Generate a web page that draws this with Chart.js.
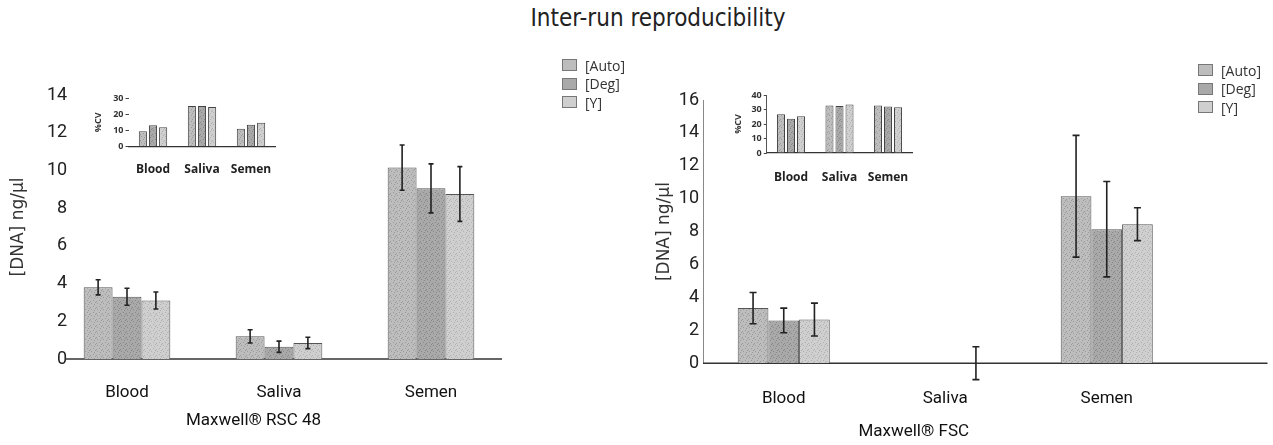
<!DOCTYPE html>
<html>
<head>
<meta charset="utf-8">
<script src="https://cdn.jsdelivr.net/npm/chart.js@4.4.1/dist/chart.umd.min.js"></script>
<style>
    body { margin: 0; background: #fff; width: 1273px; height: 445px; overflow: hidden; position: relative; }
    canvas { position: absolute; }
    #title { position: absolute; left: 0; width: 1316px; top: 4px; text-align: center; color: #222;
             font: 24px 'Liberation Sans Narrow', 'DejaVu Sans Condensed', Roboto, sans-serif; }
    .legend { position: absolute; font: 14px 'Open Sans', sans-serif; color: #333; }
    .legend div { height: 18.5px; display: flex; align-items: center; }
    .legend .box { width: 13px; height: 10px; border: 1px solid #777; margin-right: 8px; }
</style>
</head>
<body>
<div id="title">Inter-run reproducibility</div>
<canvas id="rscChart" width="640" height="445" style="left:0;top:0"></canvas>
<canvas id="fscChart" width="633" height="445" style="left:640px;top:0"></canvas>
<canvas id="rscCv" width="210" height="100" style="left:80px;top:85px"></canvas>
<canvas id="fscCv" width="210" height="113" style="left:720px;top:82px"></canvas>
<div class="legend" id="rscLegend" style="left:562px;top:56px"></div>
<div class="legend" id="fscLegend" style="left:1198px;top:61px"></div>
<script>
// categories and series
const categories = ['Blood', 'Saliva', 'Semen'];
const seriesNames = ['[Auto]', '[Deg]', '[Y]'];

// Maxwell RSC 48, [DNA] ng/µl (mean and error)
const rscAuto = [3.8, 1.2, 10.15];
const rscAutoErr = [0.4, 0.35, 1.2];
const rscDeg = [3.3, 0.65, 9.05];
const rscDegErr = [0.45, 0.3, 1.3];
const rscY = [3.1, 0.85, 8.75];
const rscYErr = [0.45, 0.3, 1.45];

// Maxwell RSC 48, %CV inset
const rscCvAuto = [9.5, 25, 11];
const rscCvDeg = [13.2, 25, 13.5];
const rscCvY = [12, 24.5, 14.7];

// Maxwell FSC, [DNA] ng/µl
const fscAuto = [3.35, 0, 10.15];
const fscAutoErr = [0.95, 0, 3.7];
const fscDeg = [2.6, 0, 8.15];
const fscDegErr = [0.75, 0, 2.9];
const fscY = [2.65, 0, 8.45];
const fscYErr = [1.0, 1.0, 1.0];

// Maxwell FSC, %CV inset
const fscCvAuto = [26.7, 32.7, 32.7];
const fscCvDeg = [23.6, 32.5, 32];
const fscCvY = [25.4, 33.5, 31.5];

// axis ranges
const rscMax = 14, fscMax = 16, rscCvMax = 30, fscCvMax = 40;
const mainStep = 2, cvStep = 10;

const labelFont = "Roboto, 'Open Sans', sans-serif";
const seriesColors = ['#bdbdbd', '#a9a9a9', '#cfcfcf'];
const speckColors = ['#9a9a9a', '#888888', '#b0b0b0'];

Chart.defaults.font.family = "'Open Sans', sans-serif";
Chart.defaults.animation = false;

// small fixed stipple so the bars look like the printed grey
function texture(base, speck) {
    const c = document.createElement('canvas');
    c.width = 6; c.height = 6;
    const g = c.getContext('2d');
    g.fillStyle = base;
    g.fillRect(0, 0, 6, 6);
    g.fillStyle = speck;
    [[0, 1], [3, 0], [4, 4], [1, 3], [5, 2]].forEach(p => g.fillRect(p[0], p[1], 1, 1));
    return g.createPattern(c, 'repeat');
}

// vertical error bars read from dataset.errors
const errorBars = {
    id: 'errorBars',
    afterDatasetsDraw(chart, args, opts) {
        const ctx = chart.ctx;
        const yScale = chart.scales.y;
        chart.data.datasets.forEach((ds, i) => {
            if (!ds.errors) return;
            chart.getDatasetMeta(i).data.forEach((bar, j) => {
                const e = ds.errors[j];
                if (!e) return;
                const top = yScale.getPixelForValue(ds.data[j] + e);
                const bottom = yScale.getPixelForValue(ds.data[j] - e);
                ctx.save();
                ctx.strokeStyle = opts.color;
                ctx.lineWidth = opts.width;
                ctx.beginPath();
                ctx.moveTo(bar.x, top); ctx.lineTo(bar.x, bottom);
                ctx.moveTo(bar.x - opts.cap, top); ctx.lineTo(bar.x + opts.cap, top);
                ctx.moveTo(bar.x - opts.cap, bottom); ctx.lineTo(bar.x + opts.cap, bottom);
                ctx.stroke();
                ctx.restore();
            });
        });
    }
};

// zero line under the bars
const baseline = {
    id: 'baseline',
    beforeDatasetsDraw(chart, args, opts) {
        const ctx = chart.ctx;
        const a = chart.chartArea;
        const y = chart.scales.y.getPixelForValue(0);
        ctx.save();
        ctx.strokeStyle = opts.color;
        ctx.lineWidth = opts.width;
        ctx.beginPath();
        ctx.moveTo(a.left + opts.start, y);
        ctx.lineTo(a.right + opts.end, y);
        ctx.stroke();
        ctx.restore();
    }
};

function barSet(values, errors, k) {
    return {
        label: seriesNames[k],
        data: values,
        errors: errors,
        backgroundColor: texture(seriesColors[k], speckColors[k]),
        borderColor: '#555',
        borderWidth: 1
    };
}

function mainChart(id, sets, cfg) {
    return new Chart(document.getElementById(id), {
        type: 'bar',
        data: { labels: categories, datasets: sets },
        options: {
            responsive: false,
            layout: { padding: cfg.padding },
            categoryPercentage: 0.57,
            barPercentage: 1,
            plugins: {
                legend: { display: false },
                tooltip: { enabled: false },
                title: { display: true, position: 'bottom', text: cfg.xTitle, color: '#111',
                         padding: { top: cfg.titleTop, bottom: 0 }, font: { family: labelFont, size: 17, weight: 'normal' } },
                errorBars: { color: '#222', width: 1.6, cap: cfg.cap },
                baseline: { color: '#333', width: 1.5, start: cfg.lineStart, end: cfg.lineEnd }
            },
            scales: {
                x: {
                    afterFit: scale => { scale.height = cfg.xHeight; },
                    grid: { display: false },
                    border: { display: false },
                    ticks: { padding: cfg.xPad, color: '#111', font: { family: labelFont, size: 17 } }
                },
                y: {
                    min: 0, max: cfg.max,
                    afterFit: scale => { scale.width = cfg.yWidth; },
                    grid: { display: false },
                    border: cfg.border,
                    ticks: { stepSize: mainStep, mirror: cfg.mirror, crossAlign: cfg.mirror ? 'far' : 'near',
                             padding: cfg.yPad, color: '#222', font: { family: labelFont, size: 18 } },
                    title: { display: true, text: '[DNA] ng/µl', color: '#333', padding: { top: cfg.yTitleTop, bottom: 0 },
                             font: { family: "'DejaVu Sans', sans-serif", size: 17 } }
                }
            }
        },
        plugins: [baseline, errorBars]
    });
}

function cvChart(id, sets, cfg) {
    return new Chart(document.getElementById(id), {
        type: 'bar',
        data: {
            labels: categories,
            datasets: sets.map((values, k) => ({
                label: seriesNames[k],
                data: values,
                backgroundColor: texture(seriesColors[k], speckColors[k]),
                borderColor: '#444',
                borderWidth: 1
            }))
        },
        options: {
            responsive: false,
            layout: { padding: cfg.padding },
            categoryPercentage: 0.62,
            barPercentage: 0.8,
            plugins: { legend: { display: false }, tooltip: { enabled: false } },
            scales: {
                x: {
                    grid: { display: false },
                    border: { display: true, color: '#333', width: 1.2, dash: cfg.xDash },
                    ticks: { padding: cfg.xPad, color: '#222', font: { size: 12, weight: 'bold' } }
                },
                y: {
                    min: 0, max: cfg.max,
                    afterFit: scale => { scale.width = cfg.yWidth; },
                    grid: { drawOnChartArea: false, tickLength: 3, color: '#444' },
                    border: cfg.border,
                    ticks: { stepSize: cvStep, padding: 2, color: '#333', font: { size: 9, weight: 'bold' } },
                    title: { display: true, text: '%CV', color: '#333', padding: { top: 12.6, bottom: 0 },
                             font: { size: 9, weight: 'bold' } }
                }
            }
        }
    });
}

function buildLegend(id) {
    const box = document.getElementById(id);
    seriesNames.forEach((name, k) => {
        const row = document.createElement('div');
        const swatch = document.createElement('span');
        swatch.className = 'box';
        swatch.style.background = seriesColors[k];
        row.appendChild(swatch);
        row.appendChild(document.createTextNode(name));
        box.appendChild(row);
    });
}

mainChart('rscChart', [
    barSet(rscAuto, rscAutoErr, 0),
    barSet(rscDeg, rscDegErr, 1),
    barSet(rscY, rscYErr, 2)
], {
    padding: { left: 0, right: 133, top: 95, bottom: 13.6 },
    max: rscMax, cap: 2.5, lineStart: 14, lineEnd: -5,
    xHeight: 46, xPad: 16, xTitle: 'Maxwell® RSC 48', titleTop: 6,
    yWidth: 51, mirror: true, yPad: -4, yTitleTop: 8.5,
    border: { display: false }
});

mainChart('fscChart', [
    barSet(fscAuto, fscAutoErr, 0),
    barSet(fscDeg, fscDegErr, 1),
    barSet(fscY, fscYErr, 2)
], {
    padding: { left: 0, right: 85.5, top: 100, bottom: 3.4 },
    max: fscMax, cap: 3.5, lineStart: 0, lineEnd: 80,
    xHeight: 54, xPad: 17, xTitle: 'Maxwell® FSC', titleTop: 4,
    yWidth: 63, mirror: false, yPad: -4, yTitleTop: 14.5,
    border: { display: true, color: '#888', dash: [2, 3] }
});

cvChart('rscCv', [rscCvAuto, rscCvDeg, rscCvY], {
    padding: { left: 0.5, right: 14.5, top: 13, bottom: 0 },
    max: rscCvMax, yWidth: 48, xPad: 8, xDash: [4, 2],
    border: { display: false }
});

cvChart('fscCv', [fscCvAuto, fscCvDeg, fscCvY], {
    padding: { left: 0, right: 17.75, top: 13, bottom: 0 },
    max: fscCvMax, yWidth: 46.75, xPad: 9.8, xDash: [],
    border: { display: true, color: '#555', dash: [1, 2] }
});

buildLegend('rscLegend');
buildLegend('fscLegend');
</script>
</body>
</html>
